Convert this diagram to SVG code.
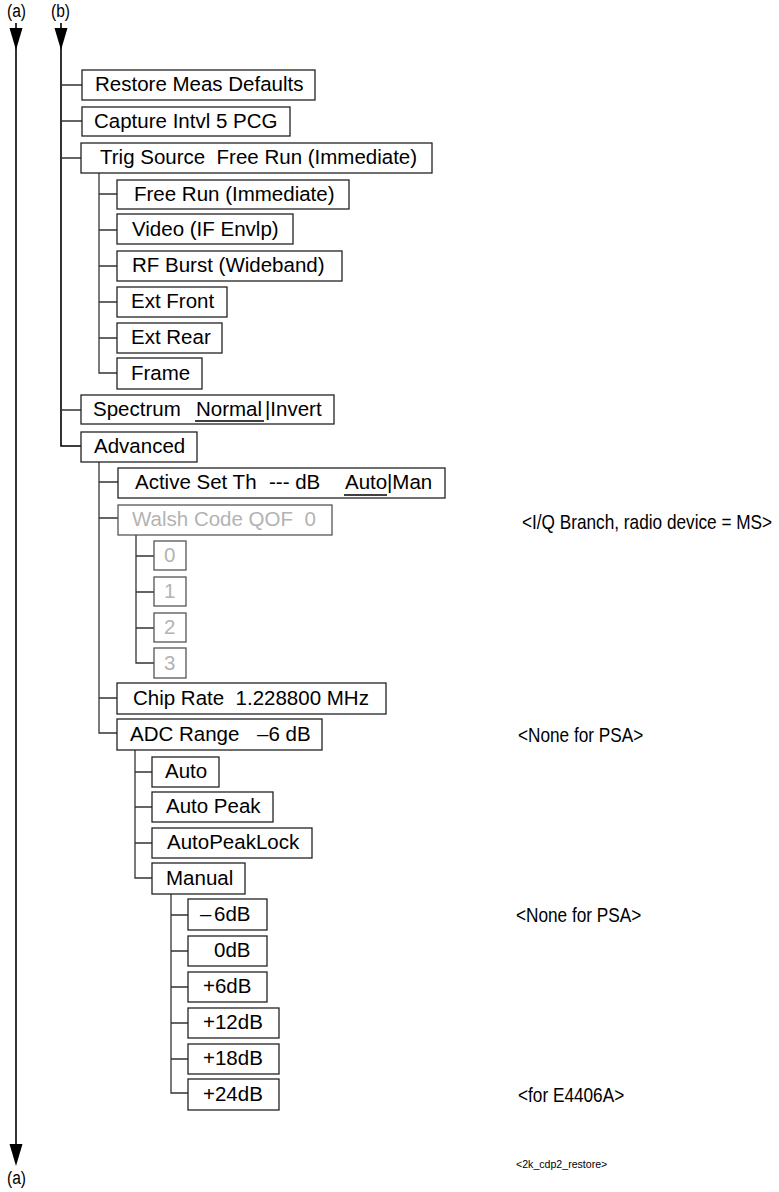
<svg xmlns="http://www.w3.org/2000/svg" width="779" height="1192" viewBox="0 0 779 1192" xml:space="preserve">
<style>
.box{fill:#fff;stroke:#222;stroke-width:1.3}
.dbox{fill:#fff;stroke:#555;stroke-width:1.3}
.t{font-family:"Liberation Sans",Arial,sans-serif;font-size:20.5px;fill:#000;white-space:pre}
.dt{font-family:"Liberation Sans",Arial,sans-serif;font-size:20.5px;fill:#b3b3b3;white-space:pre}
.ann{font-family:"Liberation Sans",Arial,sans-serif;font-size:21px;fill:#000;white-space:pre}
.lbl{font-family:"Liberation Sans",Arial,sans-serif;font-size:19px;fill:#000}
.small{font-family:"Liberation Sans",Arial,sans-serif;font-size:10.6px;fill:#000;white-space:pre}
.ln{fill:none;stroke:#333;stroke-width:1.3}
.main{fill:none;stroke:#000;stroke-width:1.6}
.ul{stroke:#000;stroke-width:1.3}
.ah{fill:#000;stroke:none}
</style>
<defs>
<path id="arrowDown" class="ah" d="M-6.5,0 L6.5,0 L0,22 Z"/>
</defs>

<g id="labels">
<text class="lbl" transform="translate(7,17) scale(0.82,1)">(a)</text>
<text class="lbl" transform="translate(51,17) scale(0.82,1)">(b)</text>
<text class="lbl" transform="translate(7,1184) scale(0.82,1)">(a)</text>
</g>

<g id="connectors">
<line class="main" x1="16" y1="23" x2="16" y2="1150"/>
<use href="#arrowDown" x="16" y="28"/>
<use href="#arrowDown" x="16" y="1144"/>
<path class="main" d="M61,23 V446 H81"/>
<use href="#arrowDown" x="61" y="28"/>
<path class="ln" d="M61,85 H82 M61,121 H82 M61,158 H81 M61,410 H81"/>
<path class="ln" d="M99,173 V373 H117 M99,194 H117 M99,230 H117 M99,266 H117 M99,302 H117 M99,338 H117"/>
<path class="ln" d="M99,462 V733 H117 M99,482 H118 M99,518 H118 M99,698 H117"/>
<path class="ln" d="M136,535 V663 H154 M136,556 H154 M136,592 H154 M136,628 H154"/>
<path class="ln" d="M135,750 V878 H152 M135,772 H152 M135,807 H152 M135,843 H152"/>
<path class="ln" d="M171,894 V1093 H188 M171,915 H188 M171,951 H188 M171,987 H188 M171,1023 H188 M171,1059 H188"/>
</g>

<g id="n-restore"><rect class="box" x="82" y="70" width="233" height="30"/><text class="t" x="95" y="91">Restore Meas Defaults</text></g>
<g id="n-capture"><rect class="box" x="82" y="107" width="208" height="29"/><text class="t" x="94" y="128">Capture Intvl 5 PCG</text></g>
<g id="n-trig"><rect class="box" x="81" y="143" width="351" height="30"/><text class="t" x="100" y="164">Trig Source  Free Run (Immediate)</text></g>
<g id="n-freerun"><rect class="box" x="117" y="180" width="232" height="29"/><text class="t" x="134" y="201">Free Run (Immediate)</text></g>
<g id="n-video"><rect class="box" x="117" y="214" width="176" height="30"/><text class="t" x="132" y="236">Video (IF Envlp)</text></g>
<g id="n-rfburst"><rect class="box" x="117" y="251" width="225" height="30"/><text class="t" x="132" y="272">RF Burst (Wideband)</text></g>
<g id="n-extfront"><rect class="box" x="117" y="287" width="110" height="30"/><text class="t" x="131" y="308">Ext Front</text></g>
<g id="n-extrear"><rect class="box" x="117" y="323" width="105" height="30"/><text class="t" x="131" y="344">Ext Rear</text></g>
<g id="n-frame"><rect class="box" x="117" y="358" width="85" height="31"/><text class="t" x="131" y="380">Frame</text></g>
<g id="n-spectrum"><rect class="box" x="81" y="395" width="253" height="29"/><text class="t" y="416"><tspan x="93">Spectrum</tspan><tspan x="196">Normal</tspan><tspan x="265">|Invert</tspan></text><line class="ul" x1="195" y1="421" x2="264" y2="421"/></g>
<g id="n-advanced"><rect class="box" x="81" y="432" width="116" height="30"/><text class="t" x="94" y="453">Advanced</text></g>
<g id="n-activeset"><rect class="box" x="118" y="468" width="327" height="30"/><text class="t" y="489"><tspan x="135">Active Set Th</tspan><tspan x="269">--- dB</tspan><tspan x="345">Auto</tspan><tspan x="387">|Man</tspan></text><line class="ul" x1="344" y1="495" x2="387" y2="495"/></g>
<g id="n-walsh"><rect class="dbox" x="118" y="505" width="214" height="30"/><text class="dt" x="132" y="526">Walsh Code QOF  0</text></g>
<g id="n-w0"><rect class="dbox" x="154" y="541" width="32" height="29"/><text class="dt" x="164" y="562">0</text></g>
<g id="n-w1"><rect class="dbox" x="154" y="577" width="32" height="29"/><text class="dt" x="164" y="598">1</text></g>
<g id="n-w2"><rect class="dbox" x="154" y="613" width="32" height="29"/><text class="dt" x="164" y="634">2</text></g>
<g id="n-w3"><rect class="dbox" x="154" y="648" width="32" height="30"/><text class="dt" x="164" y="670">3</text></g>
<g id="n-chiprate"><rect class="box" x="117" y="683" width="269" height="31"/><text class="t" x="133" y="705">Chip Rate  1.228800 MHz</text></g>
<g id="n-adcrange"><rect class="box" x="117" y="719" width="205" height="31"/><text class="t" y="741"><tspan x="130">ADC Range</tspan><tspan x="257">–6 dB</tspan></text></g>
<g id="n-auto"><rect class="box" x="152" y="757" width="67" height="30"/><text class="t" x="165" y="778">Auto</text></g>
<g id="n-autopeak"><rect class="box" x="152" y="792" width="121" height="30"/><text class="t" x="166" y="813">Auto Peak</text></g>
<g id="n-autopeaklock"><rect class="box" x="152" y="828" width="160" height="30"/><text class="t" x="167" y="849">AutoPeakLock</text></g>
<g id="n-manual"><rect class="box" x="152" y="863" width="93" height="31"/><text class="t" x="166" y="885">Manual</text></g>
<g id="n-m6"><rect class="box" x="188" y="899" width="79" height="31"/><text class="t" y="921"><tspan x="200">–</tspan><tspan x="214">6dB</tspan></text></g>
<g id="n-0"><rect class="box" x="188" y="936" width="79" height="30"/><text class="t" x="214" y="957">0dB</text></g>
<g id="n-p6"><rect class="box" x="188" y="972" width="79" height="30"/><text class="t" x="203" y="993">+6dB</text></g>
<g id="n-p12"><rect class="box" x="188" y="1008" width="91" height="30"/><text class="t" x="203" y="1029">+12dB</text></g>
<g id="n-p18"><rect class="box" x="188" y="1044" width="91" height="30"/><text class="t" x="203" y="1065">+18dB</text></g>
<g id="n-p24"><rect class="box" x="188" y="1079" width="91" height="31"/><text class="t" x="203" y="1101">+24dB</text></g>

<g id="notes">
<text class="ann" transform="translate(522,529) scale(0.82,1)">&lt;I/Q Branch, radio device = MS&gt;</text>
<text class="ann" transform="translate(518,742) scale(0.82,1)">&lt;None for PSA&gt;</text>
<text class="ann" transform="translate(516,922) scale(0.82,1)">&lt;None for PSA&gt;</text>
<text class="ann" transform="translate(518,1102) scale(0.82,1)">&lt;for E4406A&gt;</text>
<text class="small" x="516" y="1168">&lt;2k_cdp2_restore&gt;</text>
</g>
</svg>
